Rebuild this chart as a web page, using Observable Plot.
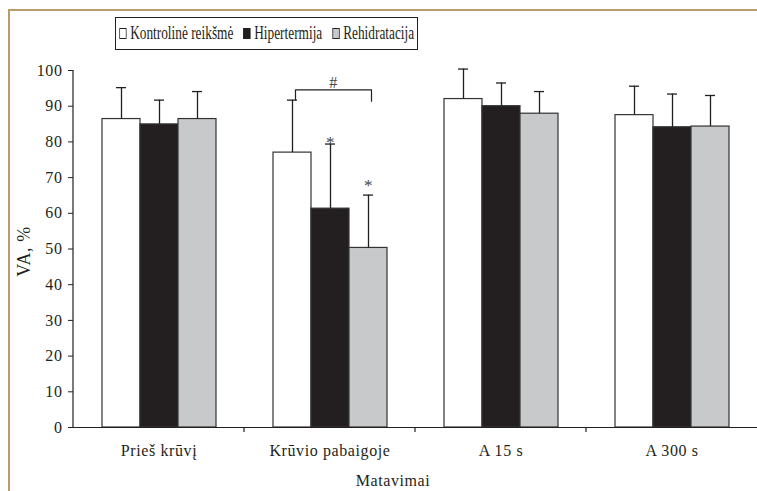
<!DOCTYPE html>
<html><head><meta charset="utf-8">
<script src="https://cdn.jsdelivr.net/npm/d3@7"></script>
<script src="https://cdn.jsdelivr.net/npm/@observablehq/plot@0.6"></script>
<style>
body{margin:0;background:#fff;font-family:"Liberation Serif",serif;}
#wrap{position:relative;width:757px;height:491px;overflow:hidden;background:#fff}
#frame{position:absolute;left:8px;top:9px;width:760px;height:480px;border-top:2px solid #bb9a6e;border-left:2px solid #bb9a6e;pointer-events:none}
#legend{position:absolute;left:115px;top:17px;width:301px;height:31px;border:1px solid #231f20;display:flex;align-items:center;justify-content:center;overflow:visible}
#legend .inner{flex-shrink:0;display:flex;align-items:center;white-space:nowrap;transform:scaleX(0.72);font-family:"Liberation Serif",serif;font-size:18.5px;color:#231f20}
.item{display:flex;align-items:center;margin:0 7px}
.sw{width:10px;height:11px;border:1px solid #231f20;margin-right:5px;box-sizing:border-box}
#chart{position:absolute;left:0;top:62px}
#chart text{letter-spacing:0.6px}
</style>
</head><body>
<div id="wrap">
  <div id="frame"></div>
  <div id="legend"><div class="inner" id="legendInner"></div></div>
  <div id="chart"></div>
</div>
<script>
const categories = ["Prieš krūvį", "Krūvio pabaigoje", "A 15 s", "A 300 s"];
const series = ["Kontrolinė reikšmė", "Hipertermija", "Rehidratacija"];
const kontrolineMean = [86.4, 77.0, 92.0, 87.5];
const kontrolineUpper = [95.2, 91.7, 100.4, 95.6];
const hipertermijaMean = [84.9, 61.3, 90.0, 84.1];
const hipertermijaUpper = [91.7, 79.4, 96.5, 93.4];
const rehidratacijaMean = [86.4, 50.3, 87.9, 84.3];
const rehidratacijaUpper = [94.1, 65.1, 94.1, 93.0];
const colors = ["#ffffff", "#231f20", "#c8c9cb"];
const yTicks = [0, 10, 20, 30, 40, 50, 60, 70, 80, 90, 100];
const starCategory = "Krūvio pabaigoje";
const starSeries = ["Hipertermija", "Rehidratacija"];
const starY = [80.8, 69.0];
const bracketSeries = ["Kontrolinė reikšmė", "Kontrolinė reikšmė", "Rehidratacija", "Rehidratacija"];
const bracketY = [91.8, 94.6, 94.6, 91.4];
const hashSeries = "Hipertermija";
const hashY = 96.6;
const xTitle = "Matavimai";
const yTitle = "VA, %";

const means = [kontrolineMean, hipertermijaMean, rehidratacijaMean];
const uppers = [kontrolineUpper, hipertermijaUpper, rehidratacijaUpper];
const rows = categories.flatMap((c, i) => series.map((s, j) => ({category: c, series: s, value: means[j][i], upper: uppers[j][i]})));
const stars = starSeries.map((s, i) => ({category: starCategory, series: s, y: starY[i]}));
const bracket = bracketSeries.map((s, i) => ({category: starCategory, series: s, y: bracketY[i]}));
const hash = [{category: starCategory, series: hashSeries, y: hashY}];

// legend
const li = document.getElementById("legendInner");
series.forEach((s, j) => {
  const it = document.createElement("div"); it.className = "item";
  const sw = document.createElement("div"); sw.className = "sw"; sw.style.background = colors[j];
  const t = document.createElement("span"); t.textContent = s;
  it.appendChild(sw); it.appendChild(t); li.appendChild(it);
});

const ink = "#231f20";
const chart = Plot.plot({
  width: 757, height: 429,
  marginLeft: 73, marginRight: 0, marginTop: 8, marginBottom: 64,
  style: {fontFamily: "Liberation Serif, serif", fontSize: "16px", color: ink, background: "transparent", overflow: "visible"},
  fx: {domain: categories, padding: 0, label: null, axis: null},
  x: {domain: series, paddingInner: 0, paddingOuter: 0.75, axis: null},
  y: {domain: [0, 100], label: null, axis: null},
  color: {domain: series, range: colors},
  marks: [
    Plot.axisY({ticks: yTicks, tickSize: 5, tickPadding: 6, label: null, stroke: ink, fill: ink, fontSize: 16}),
    Plot.axisFx({anchor: "bottom", tickSize: 0, tickPadding: 17, label: null, fill: ink, fontSize: 16}),
    Plot.barY(rows, {fx: "category", x: "series", y: "value", fill: "series", stroke: "#333", strokeWidth: 1.2}),
    Plot.ruleX(rows, {fx: "category", x: "series", y1: "value", y2: "upper", stroke: ink, strokeWidth: 1.3}),
    Plot.tickY(rows, {fx: "category", x: "series", y: "upper", insetLeft: 14, insetRight: 14, stroke: ink, strokeWidth: 1.3}),
    Plot.ruleY([0], {stroke: ink, strokeWidth: 1.2}),
    Plot.line(bracket, {fx: "category", x: "series", y: "y", dx: 3, stroke: ink, strokeWidth: 1.2}),
    Plot.text(stars, {fx: "category", x: "series", y: "y", text: () => "*", dy: 4, fontSize: 17, fill: "#444"}),
    Plot.text(hash, {fx: "category", x: "series", y: "y", text: () => "#", dx: 3, fontSize: 16, fill: "#444"})
  ]
});
document.getElementById("chart").appendChild(chart);

// decorations using the chart's own scales
const ys = chart.scale("y"), fxs = chart.scale("fx");
const svg = d3.select(chart);
const y0 = ys.apply(0), y100 = ys.apply(100);
const x0 = fxs.apply(categories[0]);
const g = svg.append("g").attr("stroke", ink).attr("stroke-width", 1.2);
g.append("line").attr("x1", x0).attr("x2", x0).attr("y1", y0).attr("y2", y100);
categories.slice(1).forEach(c => {
  const bx = fxs.apply(c);
  g.append("line").attr("x1", bx).attr("x2", bx).attr("y1", y0).attr("y2", y0 + 5);
});
svg.append("text").attr("x", 393).attr("y", y0 + 59).attr("text-anchor", "middle")
  .attr("fill", ink).attr("font-size", 16).text(xTitle);
svg.append("text").attr("transform", `translate(30,${(y0 + y100) / 2 + 3}) rotate(-90)`).attr("text-anchor", "middle")
  .attr("fill", ink).attr("font-size", 18).text(yTitle);
</script>
</body></html>
